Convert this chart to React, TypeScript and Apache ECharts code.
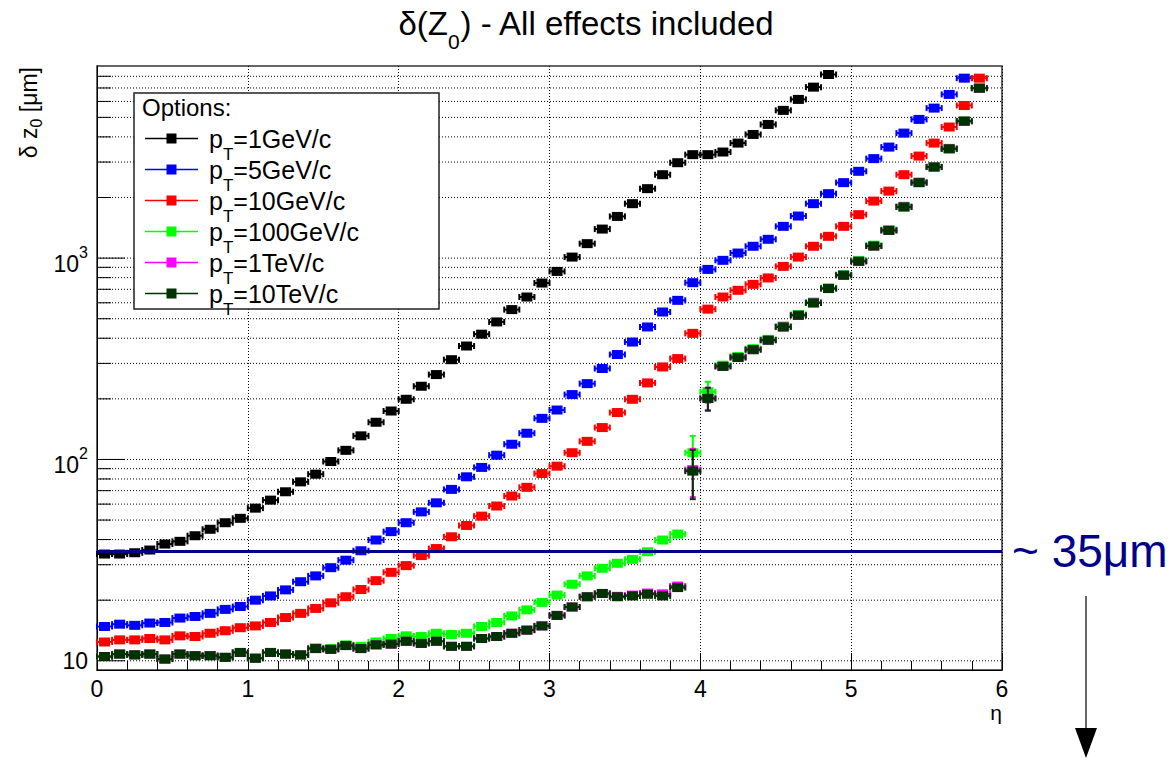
import React, { useEffect, useRef } from 'react';
import * as echarts from 'echarts';

const FONT = "'Liberation Sans', Arial, Helvetica, sans-serif";

// eta bin centres (bin width 0.1)
const etaBins = [
  0.05, 0.15, 0.25, 0.35, 0.45, 0.55, 0.65, 0.75, 0.85, 0.95,
  1.05, 1.15, 1.25, 1.35, 1.45, 1.55, 1.65, 1.75, 1.85, 1.95,
  2.05, 2.15, 2.25, 2.35, 2.45, 2.55, 2.65, 2.75, 2.85, 2.95,
  3.05, 3.15, 3.25, 3.35, 3.45, 3.55, 3.65, 3.75, 3.85, 3.95,
  4.05, 4.15, 4.25, 4.35, 4.45, 4.55, 4.65, 4.75, 4.85, 4.95,
  5.05, 5.15, 5.25, 5.35, 5.45, 5.55, 5.65, 5.75, 5.85, 5.95,
];
const binHalfWidth = 0.05;

const ptLabels = ['1GeV/c', '5GeV/c', '10GeV/c', '100GeV/c', '1TeV/c', '10TeV/c'];
const seriesColors = ['#000000', '#0000ff', '#ff0000', '#00ff00', '#ff00ff', '#003300'];

// delta z0 [um] per eta bin
const dz_pt1GeV = [
  33.9, 33.9, 34.4, 35.5, 38.0, 39.2, 41.8, 45.0, 48.5, 51.0,
  57.3, 62.8, 69.1, 77.4, 84.5, 97.7, 111, 131, 153, 174,
  199, 231, 264, 313, 366, 419, 482, 555, 641, 752,
  859, 1012, 1180, 1394, 1611, 1864, 2213, 2596, 2978, 3265,
  3265, 3365, 3727, 4114, 4613, 5418, 6142, 7068, 8165,
];
const dz_pt5GeV = [
  14.8, 15.2, 15.0, 15.4, 15.5, 16.3, 16.6, 17.2, 18.0, 18.6,
  20.0, 21.0, 22.5, 24.7, 26.4, 29.0, 31.6, 35.2, 39.8, 43.8,
  48.5, 54.9, 60.9, 71.0, 82.0, 91.3, 105, 119, 135, 160,
  176, 210, 238, 283, 332, 383, 455, 540, 617, 755,
  879, 975, 1060, 1145, 1240, 1438, 1618, 1864, 2090, 2371,
  2699, 3120, 3560, 4178, 4887, 5561, 6504, 7831,
];
const dz_pt10GeV = [
  12.4, 12.7, 12.7, 12.9, 12.7, 13.3, 13.2, 13.7, 14.1, 14.6,
  14.9, 15.5, 16.4, 17.2, 18.2, 19.4, 20.8, 22.6, 25.0, 27.5,
  29.7, 33.3, 36.1, 41.3, 47.0, 52.3, 58.7, 65.8, 72.7, 85.1,
  92.6, 108, 123, 144, 171, 199, 240, 288, 317, 423,
  558, 641, 692, 741, 797, 910, 1012, 1145, 1283, 1438,
  1644, 1920, 2152, 2596, 3212, 3727, 4478, 5730, 7831,
];
const dz_pt100GeV = [
  10.5, 10.8, 10.7, 10.8, 10.2, 10.8, 10.6, 10.6, 10.4, 11.0,
  10.3, 11.0, 10.8, 10.7, 11.6, 11.5, 12.0, 11.8, 12.4, 12.9,
  13.3, 13.2, 13.7, 13.5, 13.7, 14.8, 15.5, 16.7, 17.9, 19.5,
  21.2, 24.0, 26.4, 28.8, 30.5, 31.9, 34.8, 39.8, 42.6, 108,
  217, 294, 325, 355, 395, 460, 525, 605, 712, 828,
  975, 1160, 1385, 1810, 2390, 2850, 3510, 4810, 7000,
];
const dz_pt1TeV = [
  10.5, 10.8, 10.7, 10.8, 10.2, 10.8, 10.6, 10.6, 10.4, 11.0,
  10.3, 11.0, 10.8, 10.7, 11.5, 11.4, 11.9, 11.5, 12.0, 12.1,
  12.5, 12.2, 12.5, 11.8, 11.8, 12.9, 13.2, 13.7, 14.2, 14.9,
  16.8, 18.5, 20.8, 21.6, 20.9, 21.2, 21.7, 21.5, 23.5, 89,
  201, 290, 321, 351, 391, 455, 520, 599, 706, 822,
  964, 1148, 1373, 1795, 2371, 2833, 3491, 4786, 6982,
];
const dz_pt10TeV = [
  10.5, 10.8, 10.7, 10.8, 10.2, 10.8, 10.6, 10.6, 10.4, 11.0,
  10.3, 11.0, 10.8, 10.7, 11.5, 11.4, 11.9, 11.5, 12.0, 12.1,
  12.5, 12.2, 12.5, 11.8, 11.8, 12.9, 13.2, 13.7, 14.2, 14.9,
  16.8, 18.5, 20.8, 21.6, 20.8, 21.0, 21.4, 21.0, 23.1, 87.5,
  201, 290, 321, 351, 391, 455, 520, 599, 706, 822,
  964, 1148, 1373, 1795, 2371, 2833, 3491, 4786, 6982,
];

// vertical (statistical) errors where visible: [eta, error]
const err_pt100GeV = [[3.95, 23], [4.05, 26]];
const err_pt1TeV = [[3.95, 24], [4.05, 26]];
const err_pt10TeV = [[3.95, 24], [4.05, 26]];

const allValues = [dz_pt1GeV, dz_pt5GeV, dz_pt10GeV, dz_pt100GeV, dz_pt1TeV, dz_pt10TeV];
const allErrors = [[], [], [], err_pt100GeV, err_pt1TeV, err_pt10TeV];

// axis ranges and grid levels
const xMin = 0;
const xMax = 6;
const yMin = 9;
const yMax = 9000;
const yDecades = [10, 100, 1000];
const yGridValues = [
  10, 20, 30, 40, 50, 60, 70, 80, 90,
  100, 200, 300, 400, 500, 600, 700, 800, 900,
  1000, 2000, 3000, 4000, 5000, 6000, 7000, 8000,
];
const refLevel = 35;
const refLabel = '~ 35μm';

const seriesNames = ptLabels.map((l) => 'pT=' + l);

const legendIcon = 'path://M0,4.3L53,4.3L53,5.7L0,5.7Z M21.5,0L31.5,0L31.5,10L21.5,10Z';

function makeRenderItem(color: string) {
  return (params: any, api: any) => {
    const x = api.value(0);
    const y = api.value(1);
    const err = api.value(2);
    const c = api.coord([x, y]);
    const l = api.coord([x - binHalfWidth, y]);
    const r = api.coord([x + binHalfWidth, y]);
    const children: any[] = [];
    const st = { stroke: color, lineWidth: 2 };
    children.push({ type: 'line', shape: { x1: l[0], y1: c[1], x2: r[0], y2: c[1] }, style: st });
    children.push({ type: 'line', shape: { x1: l[0], y1: c[1] - 3, x2: l[0], y2: c[1] + 3 }, style: st });
    children.push({ type: 'line', shape: { x1: r[0], y1: c[1] - 3, x2: r[0], y2: c[1] + 3 }, style: st });
    if (err > 0) {
      const t = api.coord([x, y + err]);
      const b = api.coord([x, y - err]);
      children.push({ type: 'line', shape: { x1: c[0], y1: t[1], x2: c[0], y2: b[1] }, style: st });
      children.push({ type: 'line', shape: { x1: c[0] - 3, y1: t[1], x2: c[0] + 3, y2: t[1] }, style: st });
      children.push({ type: 'line', shape: { x1: c[0] - 3, y1: b[1], x2: c[0] + 3, y2: b[1] }, style: st });
    }
    children.push({
      type: 'rect',
      shape: { x: c[0] - 5.5, y: c[1] - 4.5, width: 11, height: 9 },
      style: { fill: color },
    });
    return { type: 'group', children };
  };
}

export default function App() {
  const ref = useRef<HTMLDivElement>(null);

  useEffect(() => {
    const chart = echarts.init(ref.current as HTMLDivElement, null, { renderer: 'svg' });

    const dataSeries = seriesNames.map((name, i) => {
      const vals = allValues[i];
      const errs = allErrors[i];
      const data = vals.map((v, k) => {
        const eta = etaBins[k];
        const e = errs.find((p) => Math.abs(p[0] - eta) < 1e-6);
        return [eta, v, e ? e[1] : 0];
      });
      return {
        type: 'custom',
        name,
        z: 3,
        silent: true,
        itemStyle: { color: seriesColors[i] },
        encode: { x: 0, y: 1 },
        data,
        renderItem: makeRenderItem(seriesColors[i]),
      };
    });

    const gridSeries = {
      type: 'custom',
      name: 'grid',
      z: 1,
      silent: true,
      encode: { x: 0, y: 1 },
      data: yGridValues.map((v) => [xMin, v]),
      renderItem: (params: any, api: any) => {
        const v = api.value(1);
        const p = api.coord([xMin, v]);
        const cs = params.coordSys;
        const major = yDecades.indexOf(v) >= 0;
        return {
          type: 'group',
          children: [
            {
              type: 'line',
              shape: { x1: cs.x, y1: p[1], x2: cs.x + cs.width, y2: p[1] },
              style: { stroke: '#000', lineWidth: 1, lineDash: [1, 2] },
            },
            {
              type: 'line',
              shape: { x1: cs.x, y1: p[1], x2: cs.x + (major ? 28 : 14), y2: p[1] },
              style: { stroke: '#000', lineWidth: 1 },
            },
          ],
        };
      },
    };

    const refSeries = {
      type: 'line',
      name: 'ref',
      z: 5,
      silent: true,
      data: [],
      markLine: {
        silent: true,
        symbol: ['none', 'none'],
        animation: false,
        data: [{ yAxis: refLevel }],
        lineStyle: { color: '#00008b', width: 3, type: 'solid' },
        label: {
          show: true,
          position: 'end',
          distance: 10,
          formatter: refLabel,
          fontSize: 46,
          fontFamily: FONT,
          color: '#00008b',
        },
        emphasis: { disabled: true },
      },
    };

    const option: any = {
      animation: false,
      backgroundColor: '#ffffff',
      textStyle: { fontFamily: FONT },
      title: {
        text: '{a|δ(Z}{s|0}{a|) - All effects included}',
        left: 'center',
        top: 5,
        padding: [0, 11, 0, 0],
        textStyle: {
          rich: {
            a: { fontSize: 33, lineHeight: 36, fontFamily: FONT, fontWeight: 'normal', color: '#000' },
            s: { fontSize: 21, lineHeight: 21, padding: [37, 0, 0, 0], fontFamily: FONT, fontWeight: 'normal', color: '#000' },
          },
        },
      },
      grid: {
        left: 97,
        top: 66,
        width: 905,
        height: 604,
        show: true,
        borderColor: '#333',
        borderWidth: 1.5,
        backgroundColor: 'transparent',
        containLabel: false,
      },
      legend: {
        data: seriesNames,
        orient: 'vertical',
        left: 145,
        top: 114,
        padding: 0,
        itemWidth: 53,
        itemHeight: 10,
        itemGap: -18,
        icon: legendIcon,
        selectedMode: false,
        z: 10,
        itemStyle: { borderWidth: 0 },
        formatter: (name: string) => {
          const i = seriesNames.indexOf(name);
          return '{p|p}{s|T}{m|=' + ptLabels[i] + '}';
        },
        textStyle: {
          rich: {
            p: { fontSize: 25, lineHeight: 26, padding: [0, 0, 0, 6], fontFamily: FONT, color: '#000' },
            m: { fontSize: 25, lineHeight: 26, fontFamily: FONT, color: '#000' },
            s: { fontSize: 17, lineHeight: 17, padding: [32, 0, 0, 0], fontFamily: FONT, color: '#000' },
          },
        },
      },
      xAxis: {
        type: 'value',
        min: xMin,
        max: xMax,
        interval: 1,
        name: 'η',
        nameLocation: 'end',
        nameGap: 0,
        nameMoveOverlap: false,
        nameTextStyle: { fontSize: 21, fontFamily: FONT, color: '#000', align: 'right', verticalAlign: 'top', padding: [32, 0, 0, 0] },
        axisLine: { show: true, lineStyle: { color: '#000', width: 1 } },
        axisTick: { show: true, inside: true, length: 17, lineStyle: { color: '#000', width: 1 } },
        minorTick: { show: true, splitNumber: 5, length: 9, lineStyle: { color: '#000', width: 1 } },
        axisLabel: { fontSize: 23, color: '#000', margin: 7, fontFamily: FONT },
        splitLine: { show: true, lineStyle: { color: '#000', width: 1, type: [1, 2] } },
      },
      yAxis: {
        type: 'log',
        logBase: 10,
        min: yMin,
        max: yMax,
        axisLine: { show: true, lineStyle: { color: '#000', width: 1 } },
        axisTick: { show: false },
        minorTick: { show: false },
        splitLine: { show: false },
        axisLabel: {
          margin: 9,
          color: '#000',
          formatter: (value: number) => {
            const e = Math.log10(value);
            const r = Math.round(e);
            if (Math.abs(e - r) > 1e-6) return '';
            if (r === 1) return '{b|10}';
            return '{m|10}{u|' + r + '}';
          },
          rich: {
            b: { fontSize: 23, fontFamily: FONT, color: '#000' },
            m: { fontSize: 23, lineHeight: 23, padding: [12, 0, 0, 0], fontFamily: FONT, color: '#000' },
            u: { fontSize: 16, lineHeight: 16, padding: [0, 0, 12, 0], fontFamily: FONT, color: '#000' },
          },
        },
      },
      graphic: [
        {
          type: 'rect',
          z: 8,
          shape: { x: 134, y: 93, width: 305, height: 216 },
          style: { fill: '#ffffff', stroke: '#222', lineWidth: 1.5 },
        },
        {
          type: 'text',
          z: 11,
          x: 142,
          y: 107,
          style: { text: 'Options:', fontSize: 24, fontFamily: FONT, fill: '#000', align: 'left', verticalAlign: 'middle' },
        },
        {
          type: 'text',
          z: 11,
          x: 29,
          y: 67,
          rotation: Math.PI / 2,
          style: {
            text: '{m|δ z}{s|0}{m| [μm]}',
            align: 'right',
            verticalAlign: 'middle',
            rich: {
              m: { fontSize: 23, lineHeight: 24, fontFamily: FONT, fill: '#000' },
              s: { fontSize: 16, lineHeight: 16, padding: [14, 0, 0, 0], fontFamily: FONT, fill: '#000' },
            },
          },
        },
        {
          type: 'line',
          z: 11,
          shape: { x1: 1086, y1: 596, x2: 1086, y2: 730 },
          style: { stroke: '#333', lineWidth: 1.5 },
        },
        {
          type: 'polygon',
          z: 11,
          shape: { points: [[1075, 728], [1097, 728], [1086, 758]] },
          style: { fill: '#000' },
        },
      ],
      series: [gridSeries, ...dataSeries, refSeries],
    };

    chart.setOption(option);
    return () => chart.dispose();
  }, []);

  return (
    <div
      ref={ref}
      style={{ position: 'absolute', left: 0, top: 0, width: 1173, height: 760, background: '#fff' }}
    />
  );
}
